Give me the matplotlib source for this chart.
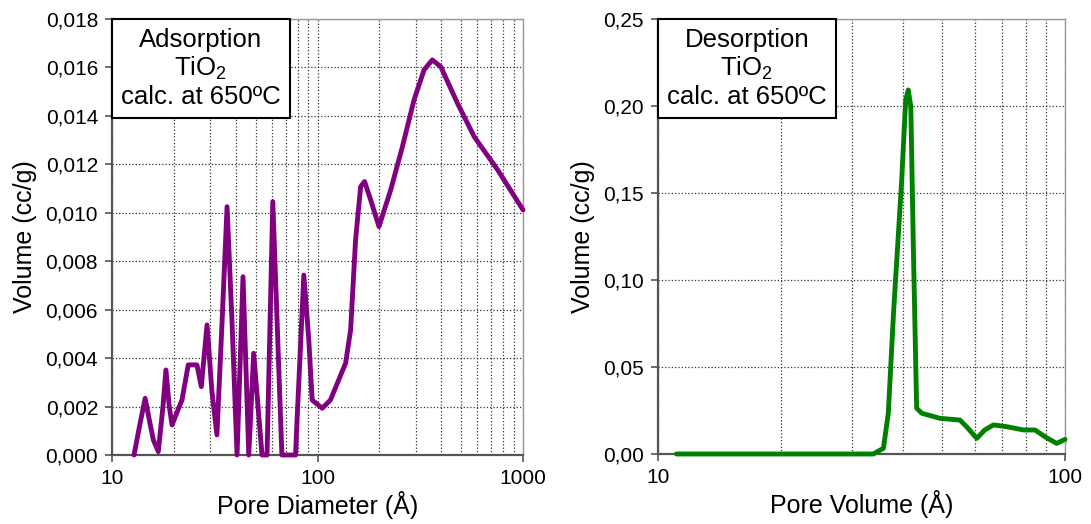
import matplotlib
matplotlib.use("Agg")
import matplotlib.pyplot as plt
from matplotlib.ticker import FixedLocator, FuncFormatter, LogLocator, NullFormatter
from matplotlib.offsetbox import AnchoredText

plt.rcParams['font.family'] = ['Liberation Sans', 'DejaVu Sans']
plt.rcParams['mathtext.fontset'] = 'custom'
plt.rcParams['mathtext.rm'] = 'Liberation Sans'
plt.rcParams['mathtext.it'] = 'Liberation Sans'

# Adsorption data (pore diameter in Å, volume in cc/g)
ads_diam = [12.8, 13.7, 14.5, 15.3, 15.9, 16.8, 17.7, 18.3, 19.0, 19.6, 21.1, 21.9,
            23.5, 25.9, 27.2, 29.0, 30.6, 32.4, 34.3, 36.3, 38.4, 40.6, 43.4, 46.3,
            48.9, 53.7, 56.8, 60.6, 67.1, 78.2, 79.6, 85.8, 90.7, 94.2, 105.4, 115.6,
            137, 144.9, 153.2, 162.2, 169.5, 181.4, 199.2, 227, 259, 295, 330, 362,
            398, 480, 579, 753, 1000]
ads_vol = [0.0, 0.00131, 0.00234, 0.00131, 0.00062, 0.00014, 0.0020, 0.00351, 0.0020,
           0.00124, 0.00193, 0.00227, 0.00372, 0.00372, 0.00282, 0.00537, 0.00268,
           0.00083, 0.00544, 0.01025, 0.00544, 0.0, 0.00736, 0.0, 0.0042, 0.0, 0.0,
           0.01046, 0.0, 0.0, 0.00152, 0.00743, 0.00475, 0.00227, 0.00193, 0.00227,
           0.00379, 0.00516, 0.00888, 0.01108, 0.01129, 0.01053, 0.00943, 0.01094,
           0.01273, 0.01466, 0.0159, 0.01631, 0.01603, 0.01452, 0.01314, 0.01177, 0.01012]

# Desorption data
des_diam = [11.1, 33.8, 35.8, 36.8, 37.9, 39.7, 40.6, 41.2, 41.8, 42.4, 43.2, 44.5,
            49.3, 55.2, 57.3, 60.7, 63.5, 66.7, 71.9, 79.1, 84.4, 89.3, 95.4, 100]
des_vol = [0.0, 0.0, 0.0033, 0.0234, 0.0809, 0.1575, 0.2034, 0.2092, 0.1996, 0.1191,
           0.0263, 0.0234, 0.0205, 0.0195, 0.0157, 0.009, 0.0138, 0.0167, 0.0157,
           0.0138, 0.0138, 0.0099, 0.0061, 0.0084]

ads_yticks = [0.000, 0.002, 0.004, 0.006, 0.008, 0.010, 0.012, 0.014, 0.016, 0.018]
des_yticks = [0.00, 0.05, 0.10, 0.15, 0.20, 0.25]

fig = plt.figure(figsize=(10.91, 5.24), dpi=100)
ax1 = fig.add_axes([112/1091, 69/524, 411/1091, 436/524])
ax2 = fig.add_axes([658/1091, 70/524, 407/1091, 435/524])


def style(ax, xlim, yticks, ydec, xlabel, box):
    ax.set_xscale('log')
    ax.set_xlim(*xlim)
    ax.set_ylim(yticks[0], yticks[-1])
    ax.yaxis.set_major_locator(FixedLocator(yticks))
    ax.yaxis.set_major_formatter(FuncFormatter(
        lambda v, p: (f"{v:.{ydec}f}").replace('.', ',')))
    ax.xaxis.set_major_locator(LogLocator(base=10))
    ax.xaxis.set_minor_locator(LogLocator(base=10, subs=range(2, 10)))
    ax.xaxis.set_major_formatter(FuncFormatter(lambda v, p: f"{v:g}"))
    ax.xaxis.set_minor_formatter(NullFormatter())
    ax.grid(True, which='major', axis='both', color='#333333', linestyle=':', linewidth=0.9)
    ax.grid(True, which='minor', axis='x', color='#333333', linestyle=':', linewidth=0.9)
    ax.tick_params(axis='both', which='major', direction='out', length=5, width=1.2,
                   color='#555555', labelsize=15, pad=5)
    ax.tick_params(axis='x', which='minor', length=0)
    for s in ['left', 'bottom']:
        ax.spines[s].set_color('#555555')
        ax.spines[s].set_linewidth(1.6)
    for s in ['top', 'right']:
        ax.spines[s].set_color('#999999')
        ax.spines[s].set_linewidth(1.0)
    ax.set_xlabel(xlabel, fontsize=18, labelpad=2)
    ax.set_ylabel('Volume (cc/g)', fontsize=18, labelpad=6)
    at = AnchoredText(box, loc='upper left', frameon=True, pad=0.35, borderpad=0.0,
                      prop=dict(fontsize=18.5, ha='center', linespacing=1.15))
    at.patch.set_linewidth(1.5)
    at.patch.set_edgecolor('black')
    ax.add_artist(at)


ax1.plot(ads_diam, ads_vol, color='#800080', linewidth=3.5, solid_joinstyle='round',
         solid_capstyle='round', clip_on=False, zorder=3)
style(ax1, (10, 1000), ads_yticks, 3, 'Pore Diameter (Å)',
      'Adsorption\nTiO$_2$\ncalc. at 650ºC')

ax2.plot(des_diam, des_vol, color='#008000', linewidth=3.5, solid_joinstyle='round',
         solid_capstyle='round', clip_on=False, zorder=3)
style(ax2, (10, 100), des_yticks, 2, 'Pore Volume (Å)',
      'Desorption\nTiO$_2$\ncalc. at 650ºC')

fig.savefig('out.png', dpi=100)
